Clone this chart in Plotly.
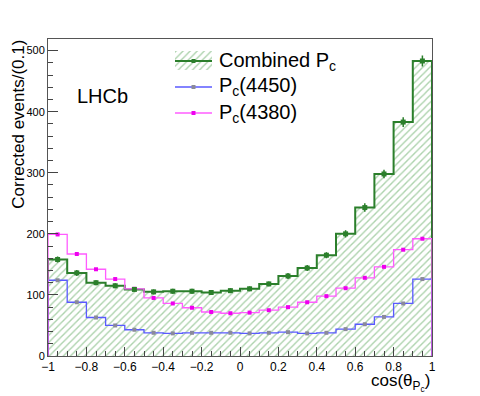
import plotly.graph_objects as go

# 각 bin의 경계 (cos theta)
bin_edges = [-1.0, -0.9, -0.8, -0.7, -0.6, -0.5, -0.4, -0.3, -0.2, -0.1, 0.0,
             0.1, 0.2, 0.3, 0.4, 0.5, 0.6, 0.7, 0.8, 0.9, 1.0]
bin_centers = [-0.95, -0.85, -0.75, -0.65, -0.55, -0.45, -0.35, -0.25, -0.15, -0.05,
               0.05, 0.15, 0.25, 0.35, 0.45, 0.55, 0.65, 0.75, 0.85, 0.95]

# Combined Pc
combined = [158, 136, 120, 115, 109, 105, 106, 106, 104, 107,
            110, 118, 131, 144, 165, 200, 243, 298, 383, 483]
combined_err = [5, 5, 4, 4, 4, 4, 4, 4, 4, 4,
                4, 4, 5, 5, 5, 6, 7, 7, 8, 9]
# Pc(4450)
pc4450 = [124, 88, 63, 50, 43, 38, 37, 38, 38, 38,
          37, 38, 39, 37, 38, 44, 52, 64, 86, 126]
# Pc(4380)
pc4380 = [199, 167, 142, 126, 110, 95, 86, 79, 72, 70,
          71, 75, 80, 88, 98, 111, 128, 146, 174, 192]

legend_names = ["Combined P<sub>c</sub>", "P<sub>c</sub>(4450)", "P<sub>c</sub>(4380)"]

FONT = "Liberation Sans, Arial, Helvetica, sans-serif"
GREEN = "#2b7f2b"
BLUE = "#5a5aff"
PINK = "#ff5cff"
HATCH = dict(shape="/", fgcolor="#5aa55a", bgcolor="white", size=5, solidity=0.28)


def step_xy(vals):
    """히스토그램 외곽선 좌표 (hv 모양)"""
    xs = [bin_edges[0]] + bin_edges[:-1] + [bin_edges[-1], bin_edges[-1]]
    ys = [0] + list(vals) + [vals[-1], 0]
    return xs, ys


fig = go.Figure()

# 빗금 채운 Combined 히스토그램
cx, cy = step_xy(combined)
fig.add_trace(go.Scatter(
    x=cx, y=cy, mode="lines", line_shape="hv",
    line=dict(color=GREEN, width=2),
    fill="tozeroy", fillpattern=HATCH, showlegend=False,
))

# Pc(4450)
bx, by = step_xy(pc4450)
fig.add_trace(go.Scatter(x=bx, y=by, mode="lines", line_shape="hv",
                         line=dict(color=BLUE, width=1.3), showlegend=False))
fig.add_trace(go.Scatter(x=bin_centers, y=pc4450, mode="markers",
                         marker=dict(symbol="square", size=4, color="#8a8a9a"),
                         showlegend=False))

# Pc(4380)
px_, py_ = step_xy(pc4380)
fig.add_trace(go.Scatter(x=px_, y=py_, mode="lines", line_shape="hv",
                         line=dict(color=PINK, width=1.3), showlegend=False))
fig.add_trace(go.Scatter(x=bin_centers, y=pc4380, mode="markers",
                         marker=dict(symbol="square", size=4, color="#ee00ee"),
                         showlegend=False))

# Combined 점 + 오차막대
fig.add_trace(go.Scatter(
    x=bin_centers, y=combined, mode="markers",
    marker=dict(symbol="square", size=5, color=GREEN),
    error_y=dict(type="data", array=combined_err, color=GREEN, thickness=1.5, width=0),
    showlegend=False,
))

# ---- 범례 (ROOT 스타일, 별도 축에 직접 그림) ----
# x2/y2 축: 범례 아이콘 영역 (화면 픽셀 단위 범위)
fig.add_trace(go.Scatter(x=[175, 212, 212, 175, 175], y=[51, 51, 70, 70, 51],
                         mode="none", fill="toself", fillpattern=HATCH,
                         xaxis="x2", yaxis="y2", showlegend=False, hoverinfo="skip"))
for yy, col, mcol, lw in [(61, GREEN, GREEN, 2), (87, BLUE, "#8a8a9a", 1.3), (113, PINK, "#ee00ee", 1.3)]:
    fig.add_trace(go.Scatter(x=[175, 212], y=[yy, yy], mode="lines",
                             line=dict(color=col, width=lw),
                             xaxis="x2", yaxis="y2", showlegend=False, hoverinfo="skip"))
    fig.add_trace(go.Scatter(x=[193.5], y=[yy], mode="markers",
                             marker=dict(symbol="square", size=4, color=mcol),
                             xaxis="x2", yaxis="y2", showlegend=False, hoverinfo="skip"))

for yy, name in zip([61, 87, 113], legend_names):
    fig.add_annotation(x=(217 - 48) / 384, y=(356 - yy) / 317, xref="paper", yref="paper",
                       text=name, showarrow=False, xanchor="left", yanchor="middle",
                       font=dict(family=FONT, size=20, color="black"))

# LHCb 라벨
fig.add_annotation(x=0.07, y=0.82, xref="paper", yref="paper", text="LHCb",
                   showarrow=False, xanchor="left", yanchor="middle",
                   font=dict(family=FONT, size=20, color="black"))
# 축 제목 (ROOT 스타일: 끝 정렬)
fig.add_annotation(x=-0.076, y=1.005, xref="paper", yref="paper",
                   text="Corrected events/(0.1)", textangle=-90,
                   showarrow=False, xanchor="center", yanchor="top",
                   font=dict(family=FONT, size=17, color="black"))
fig.add_annotation(x=1.0, y=-0.083, xref="paper", yref="paper",
                   text="cos(θ<sub>P<sub>c</sub></sub>)",
                   showarrow=False, xanchor="right", yanchor="middle",
                   font=dict(family=FONT, size=17, color="black"))

# 페이지 body 여백(8px)을 고려한 크기/여백
fig.update_layout(
    width=472, height=388,
    margin=dict(l=40, r=48, t=31, b=40),
    paper_bgcolor="white", plot_bgcolor="white",
    font=dict(family=FONT, size=11, color="black"),
    showlegend=False,
    xaxis=dict(range=[-1, 1], dtick=0.2, tick0=-1, showgrid=False, zeroline=False,
               showline=True, linecolor="#555", linewidth=1, mirror=True,
               ticks="inside", ticklen=9, tickcolor="#444",
               minor=dict(dtick=0.05, ticks="inside", ticklen=5, tickcolor="#444"),
               tickfont=dict(size=12)),
    yaxis=dict(range=[0, 519], dtick=100, showgrid=False, zeroline=False,
               showline=True, linecolor="#555", linewidth=1, mirror=True,
               ticks="inside", ticklen=10, tickcolor="#444",
               minor=dict(dtick=20, ticks="inside", ticklen=5, tickcolor="#444"),
               tickfont=dict(size=11)),
    xaxis2=dict(domain=[(175 - 48) / 384, (212 - 48) / 384], range=[175, 212],
                anchor="y2", visible=False, fixedrange=True),
    yaxis2=dict(domain=[(356 - 125) / 317, (356 - 45) / 317], range=[125, 45],
                anchor="x2", visible=False, fixedrange=True),
)

fig.write_html("out.html")
